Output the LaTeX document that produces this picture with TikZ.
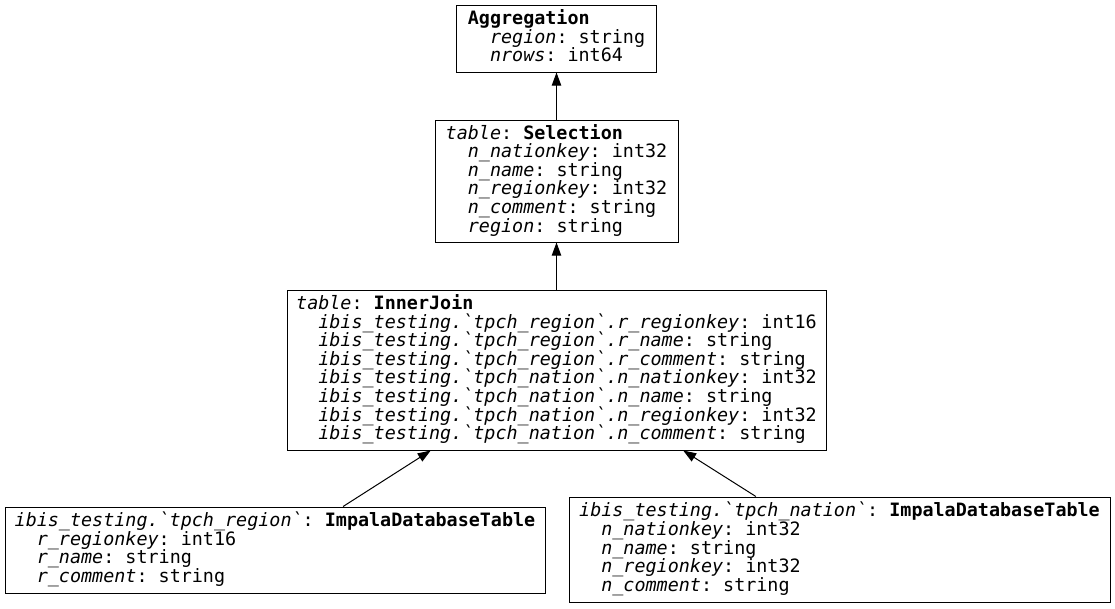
\documentclass[tikz,border=0pt]{standalone}
\usepackage{fontspec}
\setmonofont{DejaVu Sans Mono}
\usetikzlibrary{arrows.meta,positioning}
\newcommand{\bq}{\textasciigrave}
\newcommand{\fld}[2]{\strut\phantom{xx}\textit{#1}: #2}
\newcommand{\tablefont}{\ttfamily\fontsize{13.8}{13.95}\selectfont\lineskiplimit=-100pt\relax}
\tikzset{
    % Define standard node styles
    tablebox/.style={
        rectangle, draw=black, line width=0.75pt, fill=white,
        align=left, inner sep=0pt,
        font=\tablefont
    },
    linkarrow/.style={
        -{Triangle[length=9.75pt,width=7pt]}, line width=0.75pt, color=black
    }
}
\begin{document}
\begin{tikzpicture}[x=0.75pt,y=-0.75pt]
\useasboundingbox (0,0) rectangle (1115,608);

% Aggregation on top
\node[tablebox, minimum width=150pt, minimum height=50.25pt] (agg) at (556.5,38.5) {
    \strut\textbf{Aggregation}\\
    \fld{region}{string}\\
    \fld{nrows}{int64}
};

% Selection
\node[tablebox, minimum width=182.25pt, minimum height=91.5pt] (sel) at (556.5,181) {
    \strut\textit{table}: \textbf{Selection}\\
    \fld{n\_nationkey}{int32}\\
    \fld{n\_name}{string}\\
    \fld{n\_regionkey}{int32}\\
    \fld{n\_comment}{string}\\
    \fld{region}{string}
};

% Inner join
\node[tablebox, minimum width=404.25pt, minimum height=120pt] (join) at (556.5,370) {
    \strut\textit{table}: \textbf{InnerJoin}\\
    \fld{ibis\_testing.\bq tpch\_region\bq.r\_regionkey}{int16}\\
    \fld{ibis\_testing.\bq tpch\_region\bq.r\_name}{string}\\
    \fld{ibis\_testing.\bq tpch\_region\bq.r\_comment}{string}\\
    \fld{ibis\_testing.\bq tpch\_nation\bq.n\_nationkey}{int32}\\
    \fld{ibis\_testing.\bq tpch\_nation\bq.n\_name}{string}\\
    \fld{ibis\_testing.\bq tpch\_nation\bq.n\_regionkey}{int32}\\
    \fld{ibis\_testing.\bq tpch\_nation\bq.n\_comment}{string}
};

% Database tables
\node[tablebox, minimum width=405pt, minimum height=64.5pt] (region) at (275,550) {
    \strut\textit{ibis\_testing.\bq tpch\_region\bq}: \textbf{ImpalaDatabaseTable}\\
    \fld{r\_regionkey}{int16}\\
    \fld{r\_name}{string}\\
    \fld{r\_comment}{string}
};

\node[tablebox, minimum width=405.75pt, minimum height=78.75pt] (nation) at (839.5,549.5) {
    \strut\textit{ibis\_testing.\bq tpch\_nation\bq}: \textbf{ImpalaDatabaseTable}\\
    \fld{n\_nationkey}{int32}\\
    \fld{n\_name}{string}\\
    \fld{n\_regionkey}{int32}\\
    \fld{n\_comment}{string}
};

% Edges
\draw[linkarrow] (sel) -- (agg);
\draw[linkarrow] (join) -- (sel);
\draw[linkarrow] (region) -- (join);
\draw[linkarrow] (nation) -- (join);

\end{tikzpicture}
\end{document}
